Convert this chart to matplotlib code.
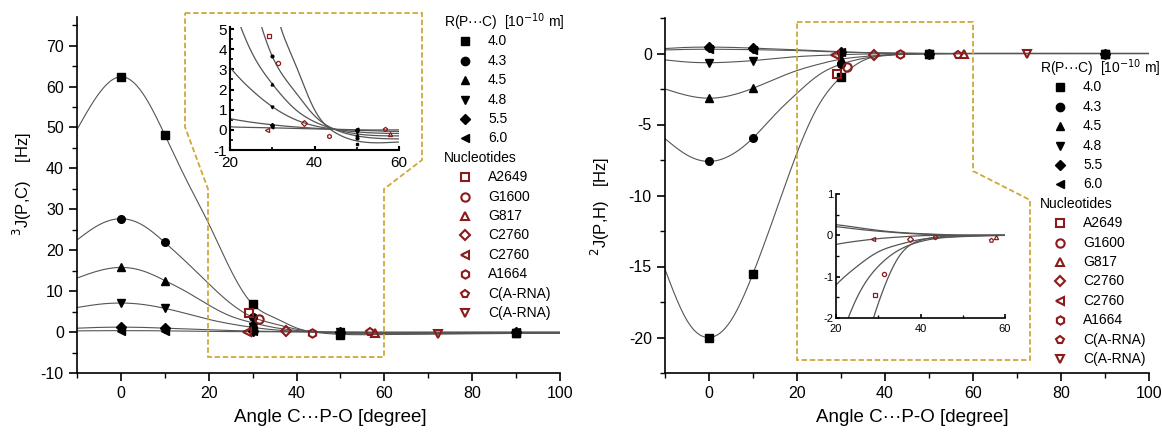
import numpy as np
import matplotlib

matplotlib.use("Agg")
import matplotlib.pyplot as plt
from matplotlib.patches import Polygon
from matplotlib.ticker import MultipleLocator

plt.rcParams["font.family"] = ["Liberation Sans", "DejaVu Sans"]
plt.rcParams["axes.unicode_minus"] = False

# knots (angle in degrees)
knot_angle = [-10, -5, 0, 5, 10, 15, 20, 25, 30, 35, 40, 45, 50, 60, 70, 80, 90, 100]
r_labels = ["4.0", "4.3", "4.5", "4.8", "5.5", "6.0"]
r_markers = ["s", "o", "^", "v", "D", "<"]

curve_3j = {
    "4.0": [49.5, 58.3, 62.4, 58.3, 48.2, 37.0, 26.5, 15.2, 6.8, 3.5, 1.0, -0.15, -0.55, -0.6, -0.5, -0.4, -0.3, -0.3],
    "4.3": [22.5, 26.2, 27.7, 26.1, 21.9, 17.0, 11.8, 7.0, 3.65, 2.0, 0.7, 0.0, -0.3, -0.45, -0.4, -0.3, -0.25, -0.2],
    "4.5": [13.2, 15.0, 15.8, 14.95, 12.6, 9.8, 6.6, 3.9, 2.28, 1.1, 0.4, 0.02, -0.2, -0.3, -0.28, -0.25, -0.2, -0.2],
    "4.8": [6.0, 6.8, 7.1, 6.75, 5.8, 4.5, 3.1, 2.0, 1.15, 0.55, 0.2, 0.02, -0.1, -0.18, -0.16, -0.15, -0.15, -0.15],
    "5.5": [0.95, 1.14, 1.2, 1.14, 0.95, 0.75, 0.55, 0.38, 0.25, 0.15, 0.08, 0.02, -0.02, -0.08, -0.07, -0.06, -0.05, -0.05],
    "6.0": [0.3, 0.34, 0.35, 0.34, 0.3, 0.23, 0.15, 0.12, 0.1, 0.07, 0.05, 0.03, 0.0, 0.0, 0.0, 0.0, 0.0, 0.0],
}
curve_2j = {
    "4.0": [-15.2, -18.8, -20.0, -18.8, -15.5, -11.3, -7.0, -3.6, -1.65, -0.5, -0.12, -0.03, 0.0, 0.0, 0.0, 0.0, 0.0, 0.0],
    "4.3": [-6.0, -7.15, -7.6, -7.15, -5.95, -4.3, -2.8, -1.5, -0.75, -0.35, -0.15, -0.06, -0.03, 0.0, 0.0, 0.0, 0.0, 0.0],
    "4.5": [-2.5, -2.95, -3.15, -2.95, -2.45, -1.8, -1.2, -0.75, -0.4, -0.22, -0.1, -0.05, -0.02, 0.0, 0.0, 0.0, 0.0, 0.0],
    "4.8": [-0.45, -0.6, -0.65, -0.6, -0.5, -0.35, -0.22, -0.14, -0.08, -0.04, -0.01, 0.0, 0.0, 0.0, 0.0, 0.0, 0.0, 0.0],
    "5.5": [0.35, 0.43, 0.45, 0.43, 0.38, 0.32, 0.26, 0.19, 0.12, 0.07, 0.04, 0.02, 0.0, 0.0, 0.0, 0.0, 0.0, 0.0],
    "6.0": [0.25, 0.29, 0.3, 0.29, 0.27, 0.24, 0.21, 0.15, 0.1, 0.06, 0.03, 0.01, 0.0, 0.0, 0.0, 0.0, 0.0, 0.0],
}

# computed points (black)
point_angle = [0, 10, 30, 50, 90]
points_3j = {
    "4.0": [62.4, 48.2, 6.8, -0.7, -0.3],
    "4.3": [27.7, 21.9, 3.65, -0.4, -0.25],
    "4.5": [15.8, 12.6, 2.28, -0.25, -0.2],
    "4.8": [7.1, 5.8, 1.15, -0.1, -0.15],
    "5.5": [1.2, 0.95, 0.25, 0.0, -0.05],
    "6.0": [0.35, 0.3, 0.15, 0.05, 0.0],
}
points_2j = {
    "4.0": [-20.0, -15.5, -1.65, 0.0, 0.0],
    "4.3": [-7.6, -5.95, -0.75, 0.0, 0.0],
    "4.5": [-3.15, -2.45, -0.4, 0.0, 0.0],
    "4.8": [-0.65, -0.55, -0.1, 0.0, 0.0],
    "5.5": [0.45, 0.38, 0.12, 0.0, 0.0],
    "6.0": [0.3, 0.25, 0.1, 0.0, 0.0],
}

# nucleotides (dark red, open)
nuc_names = ["A2649", "G1600", "G817", "C2760", "C2760", "A1664", "C(A-RNA)", "C(A-RNA)"]
nuc_markers = ["s", "o", "^", "D", "<", "h", "p", "v"]
nuc_angle = [29.2, 31.4, 57.9, 37.6, 28.7, 43.5, 56.7, 72.2]
nuc_3j = [4.65, 3.3, -0.2, 0.33, 0.0, -0.33, 0.05, -0.35]
nuc_2j = [-1.45, -0.93, -0.03, -0.08, -0.1, -0.05, -0.12, -0.05]

RED = "#8b1a1a"
GOLD = "#cda93a"
LINE = "#555555"
W, H = 1162, 433


def spline(xk, yk, xs):
    xk, yk = np.asarray(xk, float), np.asarray(yk, float)
    n = len(xk)
    h = np.diff(xk)
    d = np.diff(yk) / h
    A = np.zeros((n, n))
    b = np.zeros(n)
    A[0, 0] = A[-1, -1] = 1.0
    for i in range(1, n - 1):
        A[i, i - 1], A[i, i], A[i, i + 1] = h[i - 1], 2 * (h[i - 1] + h[i]), h[i]
        b[i] = 3 * (d[i] - d[i - 1])
    c = np.linalg.solve(A, b)
    idx = np.clip(np.searchsorted(xk, xs) - 1, 0, n - 2)
    t = xs - xk[idx]
    bb = d[idx] - h[idx] * (2 * c[idx] + c[idx + 1]) / 3
    dd = (c[idx + 1] - c[idx]) / (3 * h[idx])
    return yk[idx] + bb * t + c[idx] * t**2 + dd * t**3


def px(x, y):
    return (x / W, 1 - y / H)


def draw(ax, curves, points, nuc, inset=False):
    xs = np.linspace(-10, 100, 1000)
    for r in r_labels:
        ax.plot(xs, spline(knot_angle, curves[r], xs), color=LINE, lw=0.8 if not inset else 0.9)
    if points is not None:
        for r, mk in zip(r_labels, r_markers):
            ax.plot(point_angle, points[r], ls="none", marker=mk, color="black",
                    ms=2 if inset else (5 if mk == "D" else 5.5))
    for mk, a, v in zip(nuc_markers, nuc_angle, nuc):
        ax.plot([a], [v], ls="none", marker=mk, mfc="none", mec=RED,
                ms=3 if inset else (5 if mk == "D" else 6), mew=0.9 if inset else 1.5)


def style_main(ax, ymaj, ymin):
    for s in ("top", "right"):
        ax.spines[s].set_visible(False)
    for s in ("left", "bottom"):
        ax.spines[s].set_linewidth(1.2)
    ax.set_xlim(-10, 100)
    ax.xaxis.set_major_locator(MultipleLocator(20))
    ax.xaxis.set_minor_locator(MultipleLocator(10))
    ax.yaxis.set_major_locator(MultipleLocator(ymaj))
    ax.yaxis.set_minor_locator(MultipleLocator(ymin))
    ax.tick_params(which="major", direction="out", length=6, width=1.2, labelsize=11.5)
    ax.tick_params(which="minor", direction="out", length=3.5, width=1.0)


def style_inset(ax, ylim, lab, lw):
    for s in ("top", "right"):
        ax.spines[s].set_visible(False)
    for s in ("left", "bottom"):
        ax.spines[s].set_linewidth(lw)
    ax.set_xlim(20, 60)
    ax.set_ylim(*ylim)
    ax.xaxis.set_major_locator(MultipleLocator(20))
    ax.xaxis.set_minor_locator(MultipleLocator(10))
    ax.yaxis.set_major_locator(MultipleLocator(1))
    ax.yaxis.set_minor_locator(MultipleLocator(0.5))
    ax.tick_params(which="major", direction="in", length=3, width=lw, labelsize=lab, pad=2)
    ax.tick_params(axis="x", which="major", pad=4)
    ax.tick_params(which="minor", direction="in", length=2, width=lw * 0.8)
    ax.patch.set_alpha(0)


def legend(fig, title_xy, marker_x, text_x, dy, fs):
    tx, y = title_xy
    fig.text(*px(tx, y), "R(P\u00b7\u00b7\u00b7C)  [10$^{-10}$ m]", fontsize=fs, va="center", ha="left")
    for lab, mk in zip(r_labels, r_markers):
        y += dy
        fig.lines.append(plt.Line2D([marker_x / W], [1 - y / H], transform=fig.transFigure,
                                    marker=mk, color="black", ms=5 if mk == "D" else 6, ls="none"))
        fig.text(*px(text_x, y), lab, fontsize=fs, va="center", ha="left")
    y += dy
    fig.text(*px(tx, y), "Nucleotides", fontsize=fs, va="center", ha="left")
    for lab, mk in zip(nuc_names, nuc_markers):
        y += dy
        fig.lines.append(plt.Line2D([marker_x / W], [1 - y / H], transform=fig.transFigure,
                                    marker=mk, mfc="none", mec=RED, mew=1.5,
                                    ms=5 if mk == "D" else 6, ls="none"))
        fig.text(*px(text_x, y), lab, fontsize=fs, va="center", ha="left")


def dashed(fig, pts):
    fig.add_artist(Polygon([px(x, y) for x, y in pts], closed=True, fill=False,
                           edgecolor=GOLD, lw=1.3, ls=(0, (3, 1.5)), transform=fig.transFigure))


fig = plt.figure(figsize=(W / 100, H / 100), dpi=100)

# lewy panel: 3J(P,C)
ax1 = fig.add_axes([77 / W, 1 - 373 / H, (560 - 77) / W, (373 - 17) / H])
draw(ax1, curve_3j, points_3j, nuc_3j)
style_main(ax1, 10, 5)
ax1.set_ylim(-10, 77)
ax1.set_ylabel("$^{3}$J(P,C)    [Hz]", fontsize=12)
ax1.yaxis.set_label_coords(-0.09, 0.53)
ax1.set_xlabel("Angle C\u00b7\u00b7\u00b7P-O [degree]", fontsize=13.5)
ax1.xaxis.set_label_coords(0.524, -0.1)

dashed(fig, [(185, 13), (422, 13), (422, 160), (384, 189), (384, 357),
             (208, 357), (208, 189), (185, 127)])

in1 = fig.add_axes([230 / W, 1 - 150 / H, 169 / W, 123 / H])
draw(in1, curve_3j, points_3j, nuc_3j, inset=True)
style_inset(in1, (-1, 5.1), 11, 1.5)

legend(fig, (444, 22), 465, 488, 19.4, 10)

# prawy panel: 2J(P,H)
ax2 = fig.add_axes([665 / W, 1 - 373 / H, (1149 - 665) / W, (373 - 18) / H])
draw(ax2, curve_2j, points_2j, nuc_2j)
style_main(ax2, 5, 2.5)
ax2.set_ylim(-22.5, 2.5)
ax2.set_ylabel("$^{2}$J(P,H)   [Hz]", fontsize=12)
ax2.yaxis.set_label_coords(-0.11, 0.47)
ax2.set_xlabel("Angle C\u00b7\u00b7\u00b7P-O [degree]", fontsize=13.5)
ax2.xaxis.set_label_coords(0.512, -0.1)

dashed(fig, [(797, 22), (973, 22), (973, 171), (1030, 200), (1030, 360), (797, 360)])

in2 = fig.add_axes([836 / W, 1 - 318 / H, 169 / W, 124 / H])
draw(in2, curve_2j, None, nuc_2j, inset=True)
style_inset(in2, (-2, 1), 8, 1.2)

legend(fig, (1040, 68), 1060, 1083, 19.4, 10)

fig.savefig("out.png", dpi=100)
